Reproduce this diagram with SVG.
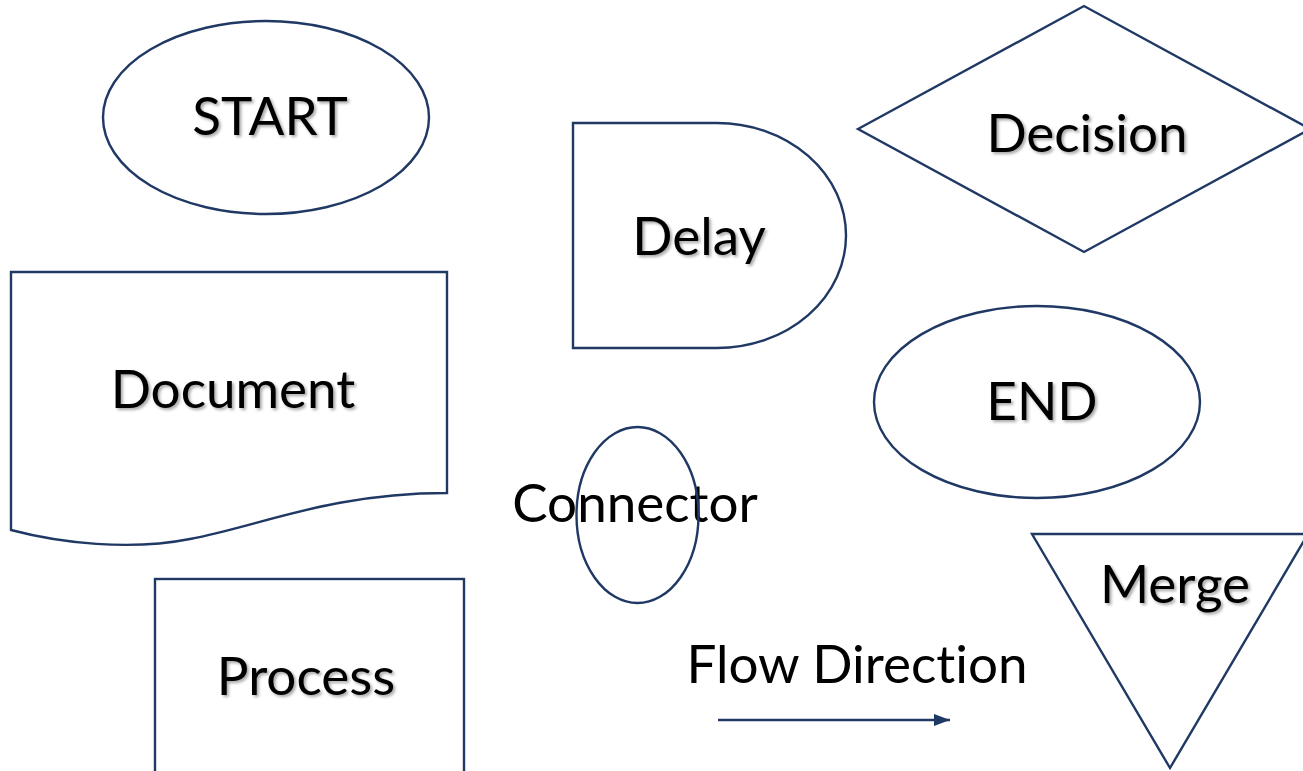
<svg xmlns="http://www.w3.org/2000/svg" width="1303" height="771" viewBox="0 0 1303 771">
<defs>
<style>
.s{fill:#fff;stroke:#1f3864;stroke-width:2.4}
.n{fill:none;stroke:#1f3864;stroke-width:2.4}
.t{font-family:Lato,"Open Sans",sans-serif;font-size:53px;fill:#000;text-anchor:middle;font-variant-ligatures:none;font-feature-settings:"liga" 0}
.sh{filter:url(#ds)}
</style>
<filter id="ds" x="-10%" y="-20%" width="130%" height="150%">
<feDropShadow dx="2" dy="2" stdDeviation="1.5" flood-color="#000" flood-opacity="0.35"/>
</filter>
<marker id="ah" markerWidth="16" markerHeight="12" refX="16" refY="6" orient="auto" markerUnits="userSpaceOnUse" viewBox="0 0 16 12">
<path d="M0,0 L16,6 L0,12 Z" fill="#1f3864"/>
</marker>
</defs>
<rect width="1303" height="771" fill="#fff"/>
<g id="start">
<ellipse class="s" cx="266" cy="117.5" rx="163" ry="96.5"/>
<text class="t sh" x="270" y="135">START</text>
</g>
<g id="delay">
<path class="s" d="M573,123 H717 A129,112.5 0 0 1 717,348 H573 Z"/>
<text class="t sh" x="699" y="255">Delay</text>
</g>
<g id="decision">
<polygon class="s" points="858,129 1084,6 1310,129 1084,252"/>
<text class="t sh" x="1087" y="152">Decision</text>
</g>
<g id="document">
<path class="s" d="M11,272 H447 V493 C330,493 260,526 190,539 C130,551 60,543 11,530 Z"/>
<text class="t sh" x="233" y="408">Document</text>
</g>
<g id="end">
<ellipse class="s" cx="1037" cy="402" rx="163" ry="96"/>
<text class="t sh" x="1042" y="420">END</text>
</g>
<g id="connector">
<text class="t" x="635" y="522">Connector</text>
<ellipse class="n" cx="637.5" cy="515" rx="61" ry="88"/>
</g>
<g id="process">
<rect class="s" x="155" y="579" width="309" height="210"/>
<text class="t sh" x="306" y="695">Process</text>
</g>
<g id="merge">
<polygon class="s" points="1032,534 1308,534 1170,768"/>
<text class="t sh" x="1175" y="603">Merge</text>
</g>
<g id="flow">
<text class="t" x="857" y="683">Flow Direction</text>
</g>
<g id="connectors">
<line class="n" x1="718" y1="720" x2="950" y2="720" marker-end="url(#ah)"/>
</g>
</svg>
